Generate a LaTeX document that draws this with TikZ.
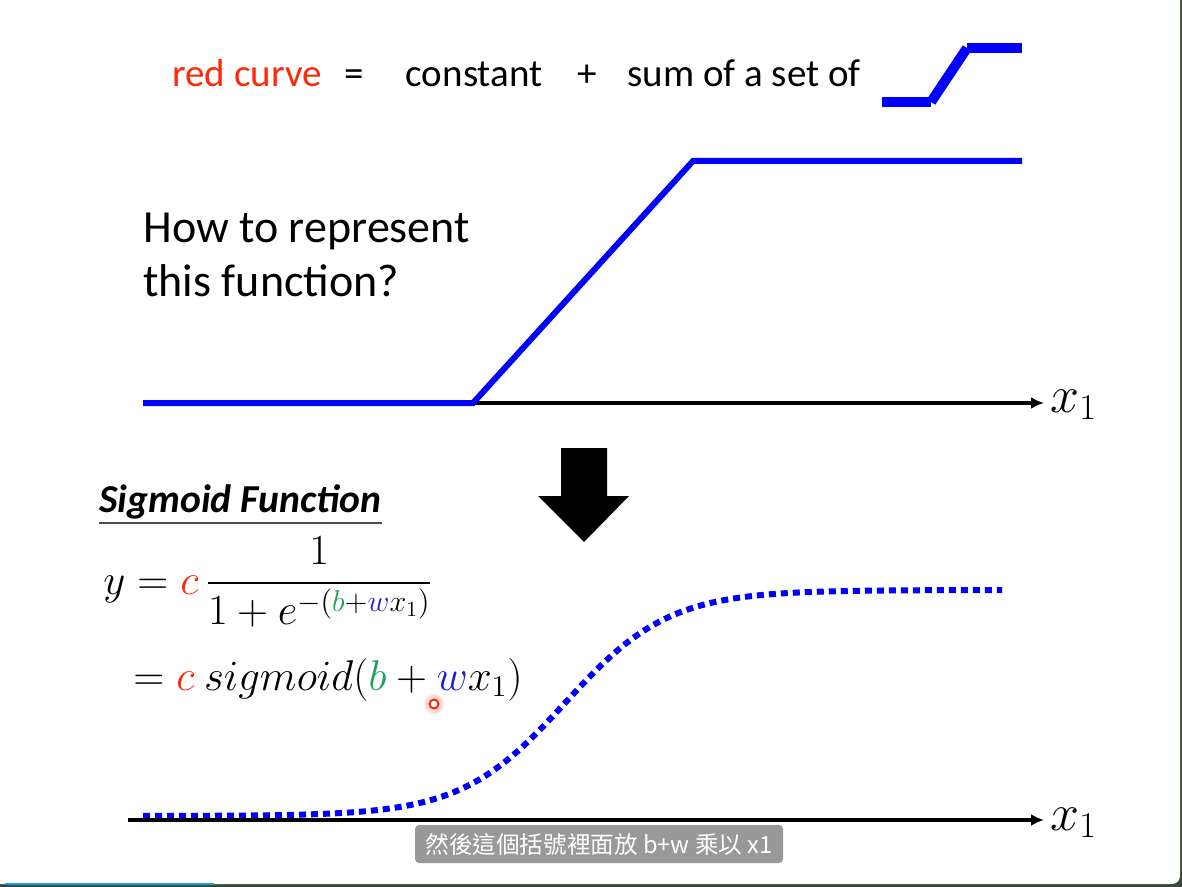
\RequirePackage{fix-cm}
\documentclass[tikz,border=0pt]{standalone}
\usepackage{amsmath}
\usepackage{fontspec}
\setmainfont{Carlito}
\newfontfamily\cjk{Noto Sans CJK TC}
\usetikzlibrary{%
    arrows.meta,
    calc,
    positioning
}
\definecolor{slidered}{RGB}{255,40,10}
\definecolor{slideblue}{RGB}{0,0,255}
\definecolor{wblue}{RGB}{30,30,210}
\definecolor{bgreen}{RGB}{30,160,90}
\definecolor{framedark}{RGB}{58,72,58}
\definecolor{barblue}{RGB}{20,160,225}
\tikzset{axisarrow/.style = {-{Latex[length=6.5pt,width=6pt]}, line width=1.8pt}}
\tikzset{bluecurve/.style = {slideblue, line width=3pt}}
\tikzset{iconline/.style = {slideblue, line width=5pt}}
\tikzset{dotcurve/.style = {slideblue, line width=3pt, dash pattern=on 3.5pt off 2.5pt}}
\tikzset{axislabel/.style = {anchor=base west, inner sep=3pt, font=\fontsize{26}{30}\selectfont}}
\tikzset{txt/.style = {inner sep=0pt, anchor=base west}}

\begin{document}
\begin{tikzpicture}[x=0.5pt,y=-0.5pt]
    % slide frame
    \fill[framedark] (0,0) rectangle (1182,887);
    \useasboundingbox (0,0) rectangle (1182,887);
    \fill[white, rounded corners=4pt] (-20,-20) rectangle (1180,884);
    \draw[barblue, line width=1pt] (5,884) -- (214,884);

    % top line
    \begin{scope}[every node/.style={txt, font=\fontsize{19.5}{23}\selectfont}]
    \node[slidered] (red) at (172,87) {red curve};
    \node (eq) [base right=11pt of red] {=};
    \node (const) [base right=20.5pt of eq] {constant};
    \node (plus) [base right=17pt of const] {+};
    \node (sum) [base right=15pt of plus] {sum of a set of};
    \end{scope}
    \coordinate (i0) at (882,102);
    \coordinate (i1) at (931,102);
    \coordinate (i2) at (967,48);
    \coordinate (i3) at (1022,48);
    \draw[iconline] (i0) -- (i1);
    \draw[iconline] (i1) -- (i2);
    \draw[iconline] (i2) -- (i3);

    % hard sigmoid
    \coordinate (top0) at (143,403);
    \node[axislabel] (xtop) at (1044,412) {$x_1$};
    \draw[axisarrow] (top0) -- (top0 -| xtop.west);
    \coordinate (h1) at (473,403);
    \coordinate (h2) at (693,161);
    \coordinate (h3) at (1022,161);
    \draw[bluecurve] (top0) -- (h1) -- (h2) -- (h3);
    \node[txt, font=\fontsize{23}{28}\selectfont] (ask) at (143,243) {How to represent};
    \node[txt, font=\fontsize{23}{28}\selectfont] (ask2) at (143,297) {this function?};

    % down arrow
    \fill (561,448) -- (607,448) -- (607,496) -- (629,496) -- (584,542)
        -- (538,496) -- (561,496) -- cycle;

    % sigmoid function
    \node[txt, font=\fontsize{19.8}{23}\selectfont\bfseries\itshape] (sighead) at (99,512) {Sigmoid Function};
    \draw[line width=1pt, black!70] ([yshift=-5.5pt]sighead.base west) -- ([yshift=-5.5pt]sighead.base east);
    \node[txt, font=\fontsize{21.5}{26}\selectfont] (eqn1) at (103,594)
        {$y = {\color{slidered}c}\,\dfrac{1}{1+e^{-({\color{bgreen}b}+{\color{wblue}w}x_1)}}$};
    \node[txt, font=\fontsize{21.5}{26}\selectfont] (eqn2) at (133,690)
        {$= {\color{slidered}c}\ sigmoid({\color{bgreen}b}+{\color{wblue}w}x_1)$};
    \node[circle, fill=slidered!25, opacity=0.6, minimum size=10pt, inner sep=0pt] (glow) at (434,704) {};
    \node[circle, draw=slidered, fill=white, line width=1pt, minimum size=4.5pt, inner sep=0pt] (pointer) at (glow) {};

    \coordinate (bot0) at (128,820);
    \node[axislabel] (xbot) at (1044,830) {$x_1$};
    \draw[dotcurve] plot[domain=143:1002, samples=150] (\x, {816 - 226/(1+exp(-(\x-565)/52))});
    \draw[axisarrow] (bot0) -- (bot0 -| xbot.west);

    % subtitle
    \node[fill=black!40, rounded corners=2pt, text=white, minimum width=184pt, minimum height=19pt,
        inner sep=0pt, font=\cjk\fontsize{11.8}{14}\selectfont] (caption) at (599,844)
        {然後這個括號裡面放 b+w 乘以 x1};
\end{tikzpicture}
\end{document}
